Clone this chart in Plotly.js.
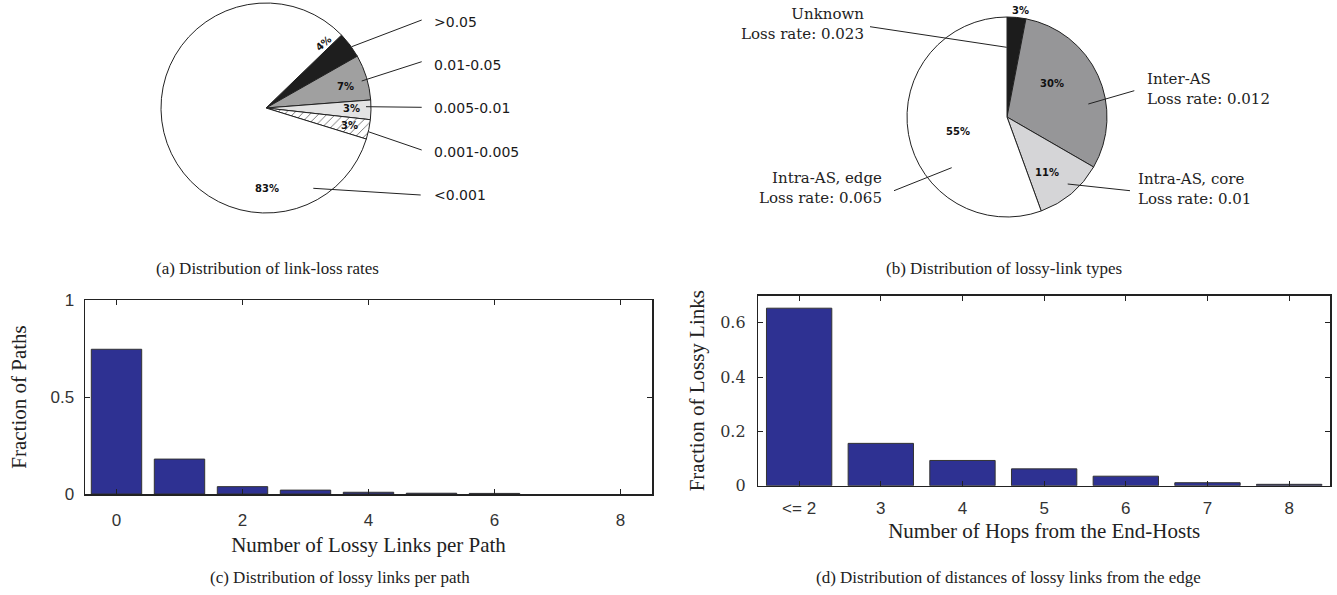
<!DOCTYPE html>
<html><head><meta charset="utf-8">
<script src="https://cdn.plot.ly/plotly-3.0.1.min.js"></script>
<style>html,body{margin:0;padding:0;background:#fff}</style>
</head><body><div id="chart" style="width:1337px;height:595px"></div>
<script>
// ---------------- DATA ----------------
const rateLabels = [">0.05", "0.01-0.05", "0.005-0.01", "0.001-0.005", "<0.001"];
const ratePercents = [4, 7, 3, 3, 83];

const typeNames = ["Unknown", "Inter-AS", "Intra-AS, core", "Intra-AS, edge"];
const typeLossRates = ["0.023", "0.012", "0.01", "0.065"];
const typePercents = [3, 30, 11, 55];

const lossyLinksPerPath = [0, 1, 2, 3, 4, 5, 6, 7, 8];
const fractionOfPaths = [0.746, 0.180, 0.038, 0.020, 0.009, 0.004, 0.003, 0, 0];
const pathTicks = [0, 2, 4, 6, 8];
const pathYTicks = [0, 0.5, 1];
const pathYTickText = ["0", "0.5", "1"];

const hopCategories = ["<= 2", "3", "4", "5", "6", "7", "8"];
const fractionOfLossyLinks = [0.654, 0.156, 0.093, 0.062, 0.035, 0.011, 0.005];
const hopYTicks = [0, 0.2, 0.4, 0.6];
const hopYTickText = ["0", "0.2", "0.4", "0.6"];

const captions = [
  "(a) Distribution of link-loss rates",
  "(b) Distribution of lossy-link types",
  "(c) Distribution of lossy links per path",
  "(d) Distribution of distances of lossy links from the edge"
];

// ---------------- LAYOUT HELPERS (pixel -> paper) ----------------
const W = 1337, H = 595;
const X = p => p / W;
const Y = p => 1 - p / H;

// pie geometry
const pieA = {cx: 266, cy: 108, r: 105};
const pieB = {cx: 1007, cy: 117, r: 100};
function dom(p) {
  return {x: [X(p.cx - p.r), X(p.cx + p.r)], y: [Y(p.cy + p.r), Y(p.cy - p.r)]};
}

// label placements (layout only)
const rateLabelPos = [[431.7, 21.7], [431.7, 65], [431.7, 108.3], [431.7, 151.7], [431.7, 195]];
const rateLines = [[351.7, 46.7, 421.7, 20], [361.7, 81, 421.7, 61.7], [366, 106.7, 421.7, 107.3],
                   [368.3, 131.7, 421.7, 150], [313.3, 188.3, 420.7, 195]];
const ratePctPos = [[323.3, 43.3, -42], [345, 86.7, 0], [351.7, 108.3, 0], [349.3, 125, 0], [266.7, 188.3, 0]];

const typeLabelPos = [[866, 24, "right"], [1145, 89, "left"], [1136, 189, "left"], [884, 188, "right"]];
const typeLines = [[870, 26.7, 1006.7, 47.3], [1088.3, 104, 1134.3, 90.7], [1067.7, 184, 1130, 190.7], [894, 190.7, 951.7, 167.7]];
const typePctPos = [[1020, 10], [1051.7, 83.3], [1046.7, 172.7], [958.3, 131.7]];

const captionPos = [[267, 268], [1004, 268], [340, 577], [1008, 577]];

// ---------------- TRACES ----------------
const ink = "#222";
const traces = [
  {
    type: "pie", labels: rateLabels, values: ratePercents, sort: false,
    direction: "clockwise", rotation: 46, domain: dom(pieA),
    textinfo: "none", hoverinfo: "label+percent", showlegend: false,
    marker: {
      colors: ["#1e1e1e", "#a0a0a0", "#e3e3e3", "#ffffff", "#ffffff"],
      line: {color: ink, width: 1},
      pattern: {shape: ["", "", "", "/", ""], fgcolor: "#444", bgcolor: "#ffffff", size: 6, solidity: 0.12}
    }
  },
  {
    type: "pie", labels: typeNames, values: typePercents, sort: false,
    direction: "clockwise", rotation: 0, domain: dom(pieB),
    textinfo: "none", hoverinfo: "label+percent", showlegend: false,
    marker: {colors: ["#1c1c1c", "#969698", "#d5d5d7", "#ffffff"], line: {color: ink, width: 1}}
  },
  {
    type: "bar", x: lossyLinksPerPath, y: fractionOfPaths, width: 0.8,
    xaxis: "x", yaxis: "y", showlegend: false,
    marker: {color: "#2e3192",
             line: {color: "#333", width: fractionOfPaths.map(v => v > 0 ? 1 : 0)}}
  },
  {
    type: "bar", x: hopCategories, y: fractionOfLossyLinks, width: 0.8,
    xaxis: "x2", yaxis: "y2", showlegend: false,
    marker: {color: "#2e3192", line: {color: "#333", width: 1}}
  }
];

// ---------------- ANNOTATIONS & SHAPES ----------------
const annotations = [];
const shapes = [];
function line(l) {
  shapes.push({type: "line", xref: "paper", yref: "paper", x0: X(l[0]), y0: Y(l[1]), x1: X(l[2]), y1: Y(l[3]),
               line: {color: ink, width: 1}});
}
rateLabels.forEach((t, i) => {
  annotations.push({text: t, xref: "paper", yref: "paper", x: X(rateLabelPos[i][0]), y: Y(rateLabelPos[i][1]),
    xanchor: "left", yanchor: "middle", showarrow: false,
    font: {family: "DejaVu Sans", size: 14, color: "#1a1a1a"}});
  line(rateLines[i]);
  annotations.push({text: ratePercents[i] + "%", xref: "paper", yref: "paper",
    x: X(ratePctPos[i][0]), y: Y(ratePctPos[i][1]), textangle: ratePctPos[i][2],
    xanchor: "center", yanchor: "middle", showarrow: false,
    font: {family: "DejaVu Sans", size: 10, weight: 700, color: "#111",
           shadow: i === 0 ? "0 0 2px #fff, 0 0 2px #fff, 0 0 1px #fff" : "none"}});
});
typeNames.forEach((t, i) => {
  const p = typeLabelPos[i];
  annotations.push({text: t + "<br>Loss rate: " + typeLossRates[i], xref: "paper", yref: "paper",
    x: X(p[0]), y: Y(p[1]), xanchor: p[2], align: p[2], yanchor: "middle", showarrow: false,
    font: {family: "DejaVu Serif", size: 15, color: "#222"}});
  line(typeLines[i]);
  annotations.push({text: typePercents[i] + "%", xref: "paper", yref: "paper",
    x: X(typePctPos[i][0]), y: Y(typePctPos[i][1]),
    xanchor: "center", yanchor: "middle", showarrow: false,
    font: {family: "DejaVu Sans", size: 10, weight: 700, color: "#111"}});
});
captions.forEach((t, i) => {
  annotations.push({text: t, xref: "paper", yref: "paper", x: X(captionPos[i][0]), y: Y(captionPos[i][1]),
    xanchor: "center", yanchor: "middle", showarrow: false,
    font: {family: "Liberation Serif", size: 17, color: "#222"}});
});

// ---------------- AXES ----------------
const axisCommon = {
  showline: true, linecolor: "#222", linewidth: 1.5, mirror: "ticks",
  ticks: "inside", ticklen: 5, tickcolor: "#222", tickwidth: 1,
  showgrid: false, zeroline: false, fixedrange: true
};
const titleFont = {family: "Liberation Serif", size: 21, color: "#222"};

const layout = {
  width: W, height: H, margin: {l: 0, r: 0, t: 0, b: 0},
  paper_bgcolor: "#fff", plot_bgcolor: "#fff", showlegend: false,
  xaxis: Object.assign({}, axisCommon, {
    domain: [X(85), X(652)], anchor: "y", range: [-0.5, 8.5],
    tickvals: pathTicks, ticktext: pathTicks.map(String),
    tickfont: {family: "Liberation Sans Narrow, Liberation Sans", size: 17, color: "#333"},
    ticklabelstandoff: 10,
    title: {text: "Number of Lossy Links per Path", font: titleFont, standoff: 8}
  }),
  yaxis: Object.assign({}, axisCommon, {
    domain: [Y(494), Y(300)], anchor: "x", range: [0, 1],
    tickvals: pathYTicks, ticktext: pathYTickText,
    tickfont: {family: "Liberation Sans Narrow, Liberation Sans", size: 17, color: "#333"},
    ticklabelstandoff: 6,
    title: {text: "Fraction of Paths", font: titleFont, standoff: 18}
  }),
  xaxis2: Object.assign({}, axisCommon, {
    domain: [X(758.3), X(1330)], anchor: "y2", range: [-0.5, 6.5],
    type: "category", tickvals: hopCategories,
    tickfont: {family: "Liberation Sans Narrow, Liberation Sans", size: 17, color: "#333"},
    ticklabelstandoff: 6,
    title: {text: "Number of Hops from the End-Hosts", font: titleFont, standoff: 6}
  }),
  yaxis2: Object.assign({}, axisCommon, {
    domain: [Y(485.7), Y(295.7)], anchor: "x2", range: [0, 0.7],
    tickvals: hopYTicks, ticktext: hopYTickText,
    tickfont: {family: "DejaVu Serif", size: 16, color: "#333"},
    ticklabelstandoff: 8,
    title: {text: "Fraction of Lossy Links", font: titleFont, standoff: 10}
  }),
  annotations: annotations,
  shapes: shapes
};

Plotly.newPlot("chart", traces, layout, {displayModeBar: false, staticPlot: true});
</script>
</body></html>
